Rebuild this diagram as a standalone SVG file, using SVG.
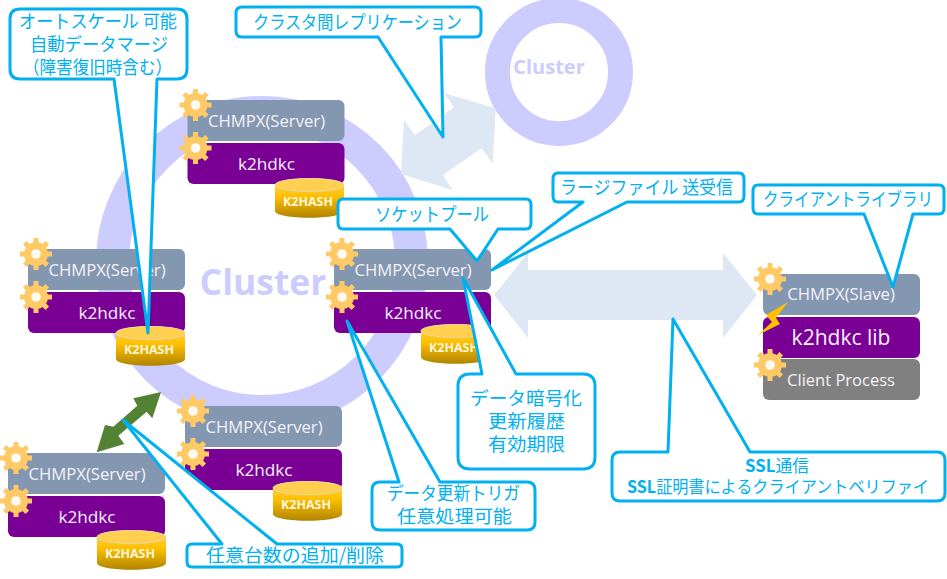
<svg xmlns="http://www.w3.org/2000/svg" xmlns:xlink="http://www.w3.org/1999/xlink" width="947" height="579" viewBox="0 0 947 579">
<style>
.ring{fill:none;stroke:#ccccff}
.cl{font-family:"Open Sans","Noto Sans",sans-serif;font-weight:700;fill:#ccccff;text-anchor:middle}
.srv{fill:#8497b0}
.pur{fill:#7a0095}
.t{font-family:"Open Sans","Noto Sans",sans-serif;fill:#f4f1f8;text-anchor:middle;font-size:16.7px}
.h{font-family:"Open Sans","Noto Sans",sans-serif;font-weight:700;fill:#fff6dc;text-anchor:middle;font-size:12.500px}
.co{fill:#fff;stroke:#00b0f0;stroke-width:3;stroke-linejoin:round}
.ct{font-family:"Noto Sans CJK JP","Noto Sans",sans-serif;fill:#00b0f0;text-anchor:start;font-size:18.500px}
.cb{font-size:17px}
.b{font-weight:700}
.pale{fill:#dee8f5}
</style>
<defs>
<linearGradient id="hg" x1="0" y1="0" x2="0" y2="1"><stop offset="0" stop-color="#ffd966"/><stop offset="0.45" stop-color="#ffc000"/><stop offset="1" stop-color="#b08400"/></linearGradient>
<g id="gear">
<g stroke="#ffc966" stroke-width="5">
<path d="M0-16V16M-16 0H16M-11.300-11.300L11.300 11.300M-11.300 11.300L11.300-11.300"/>
</g>
<circle r="12" fill="#ffc966"/>
<circle r="4.800" fill="#fffaf0"/>
</g>
<g id="hash">
<path d="M0 7C0-2 69-2 69 7V33C69 42 0 42 0 33Z" fill="url(#hg)"/>
<ellipse cx="34.500" cy="7" rx="34.500" ry="6.500" fill="#ffd050" stroke="#e6d9a8" stroke-width="1"/>
<text class="h" x="33" y="28">K2HASH</text>
</g>
<g id="srv">
<rect class="srv" width="157" height="41" rx="6"/>
<use xlink:href="#gear" href="#gear" x="8" y="5"/>
<text class="t" x="79" y="27">CHMPX(Server)</text>
<rect class="pur" y="43" width="157" height="41" rx="6"/>
<use xlink:href="#gear" href="#gear" x="8" y="48"/>
<text class="t" x="79" y="70" style="font-size:17.200px">k2hdkc</text>
</g>
</defs>
<rect width="947" height="579" fill="#fff"/>
<circle class="ring" cx="262" cy="262" r="149.500" stroke-width="33"/>
<text class="cl" x="263" y="295" font-size="35.500">Cluster</text>
<g id="cluster-small">
<circle class="ring" cx="559" cy="72" r="61.500" stroke-width="25"/>
<text class="cl" x="549" y="74" font-size="20">Cluster</text>
</g>
<g id="node-top"><use xlink:href="#srv" href="#srv" x="187.500" y="100"/><use xlink:href="#hash" href="#hash" x="275" y="178"/></g>
<g id="node-left"><use xlink:href="#srv" href="#srv" x="28" y="249"/><use xlink:href="#hash" href="#hash" x="116" y="326"/></g>
<g id="node-mid"><use xlink:href="#srv" href="#srv" x="334" y="249"/><use xlink:href="#hash" href="#hash" x="421" y="324"/></g>
<g id="node-bottom"><use xlink:href="#srv" href="#srv" x="185" y="406"/><use xlink:href="#hash" href="#hash" x="273" y="481"/></g>
<g id="node-new"><use xlink:href="#srv" href="#srv" x="8" y="453"/><use xlink:href="#hash" href="#hash" x="97" y="530"/></g>
<g id="node-client">
<rect class="srv" x="763" y="274" width="157" height="41" rx="6"/>
<use xlink:href="#gear" href="#gear" x="770" y="279"/>
<text class="t" x="841" y="300">CHMPX(Slave)</text>
<rect class="pur" x="763" y="317" width="157" height="41" rx="6"/>
<text class="t" x="841" y="345" style="font-size:21px">k2hdkc lib</text>
<rect x="763" y="359" width="157" height="41" rx="6" fill="#808080"/>
<use xlink:href="#gear" href="#gear" x="770" y="365"/>
<text class="t" x="841" y="386" style="font-size:16.500px">Client Process</text>
<path d="M788 302L766 315L772 322L758 335L780 324L776 318Z" fill="#ffc000"/>
</g>
<g id="connectors">
<path class="pale" d="M495.700 108.300L444.300 93.300L454 107.300L415 135L404 120L401 174L452.700 190L442.700 175L481.700 148.300L492.700 163.300Z"/>
<path class="pale" d="M494 295L528 253V270H723V253L757 295L723 338V320H528V338Z"/>
<path fill="#548235" d="M161 392L133.300 398.300L137.300 405.700L113.300 426.700L105 425L96.700 452.300L124.300 444L118.300 435.700L146.700 411.700L152.300 418.300Z"/>
</g>
<g id="callout-autoscale"><path class="co" d="M20 9H177Q187 9 187 19V69Q187 79 177 79H157L148 333L114 79H20Q10 79 10 69V19Q10 9 20 9Z"/>
<text class="ct" x="19" y="28" textLength="158" lengthAdjust="spacingAndGlyphs">オートスケール 可能</text><text class="ct" x="30" y="51" textLength="138" lengthAdjust="spacingAndGlyphs">自動データマージ</text><text class="ct" x="23" y="74" textLength="149" lengthAdjust="spacingAndGlyphs">（障害復旧時含む）</text></g>
<g id="callout-replication"><path class="co" d="M242 7H475Q481 7 481 13V31Q481 37 475 37H441L443 137L378 37H242Q236 37 236 31V13Q236 7 242 7Z"/>
<text class="ct" x="253" y="29" textLength="209" lengthAdjust="spacingAndGlyphs">クラスタ間レプリケーション</text></g>
<g id="callout-socket"><path class="co" d="M343 199H526Q531 199 531 205V223Q531 229 526 229H498L477 261L450 229H343Q338 229 338 223V205Q338 199 343 199Z"/>
<text class="ct" x="375" y="221" textLength="114" lengthAdjust="spacingAndGlyphs">ソケットプール</text></g>
<g id="callout-largefile"><path class="co" d="M558 173H739Q744 173 744 179V196Q744 202 739 202H627L492 270L583 202H558Q553 202 553 196V179Q553 173 558 173Z"/>
<text class="ct" x="560" y="194" textLength="173" lengthAdjust="spacingAndGlyphs">ラージファイル 送受信</text></g>
<g id="callout-library"><path class="co" d="M758 185H939Q944 185 944 191V208Q944 214 939 214H913L893 287L864 214H758Q753 214 753 208V191Q753 185 758 185Z"/>
<text class="ct" x="763" y="206" textLength="170" lengthAdjust="spacingAndGlyphs">クライアントライブラリ</text></g>
<g id="callout-crypto"><path class="co" d="M470 374H482L463 278L516 374H583Q595 374 595 386V457Q595 469 583 469H470Q458 469 458 457V386Q458 374 470 374Z"/>
<text class="ct" x="470" y="405" textLength="112" lengthAdjust="spacingAndGlyphs">データ暗号化</text><text class="ct" x="488" y="428" textLength="77" lengthAdjust="spacingAndGlyphs">更新履歴</text><text class="ct" x="488" y="451" textLength="77" lengthAdjust="spacingAndGlyphs">有効期限</text></g>
<g id="callout-trigger"><path class="co" d="M380 482H399L347 321L440 482H527Q535 482 535 490V522Q535 530 527 530H380Q372 530 372 522V490Q372 482 380 482Z"/>
<text class="ct" x="387" y="500" textLength="133" lengthAdjust="spacingAndGlyphs">データ更新トリガ</text><text class="ct" x="397" y="523" textLength="115" lengthAdjust="spacingAndGlyphs">任意処理可能</text></g>
<g id="callout-ssl"><path class="co" d="M620 452H668L673 319L750 452H937Q945 452 945 460V493Q945 501 937 501H620Q612 501 612 493V460Q612 452 620 452Z"/>
<text class="ct cb" x="745" y="472" textLength="64" lengthAdjust="spacingAndGlyphs"><tspan class="b">SSL</tspan>通信</text><text class="ct cb" x="627" y="493" textLength="302" lengthAdjust="spacingAndGlyphs"><tspan class="b">SSL</tspan>証明書によるクライアントベリファイ</text></g>
<g id="callout-scale"><path class="co" d="M192 544H222L123 420L277 544H397Q402 544 402 549V562Q402 567 397 567H192Q187 567 187 562V549Q187 544 192 544Z"/>
<text class="ct" x="206" y="562" textLength="178" lengthAdjust="spacingAndGlyphs">任意台数の追加/削除</text></g>
</svg>
